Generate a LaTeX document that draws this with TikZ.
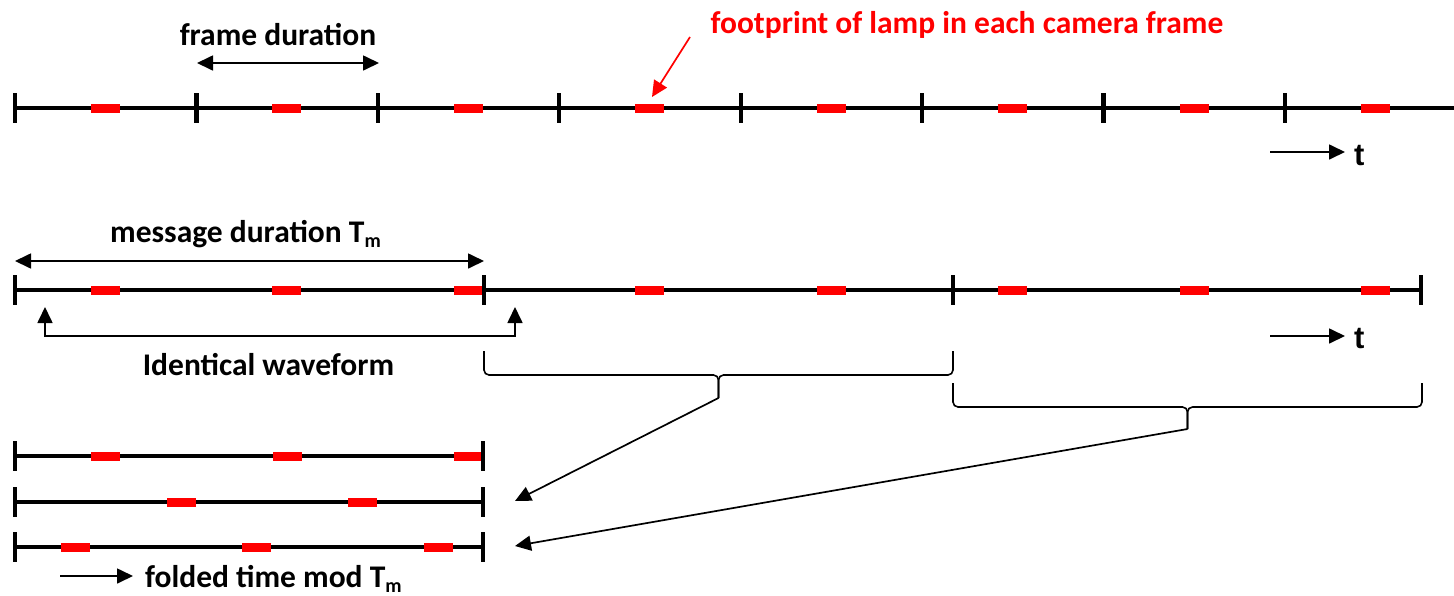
\documentclass[tikz,border=0pt]{standalone}
\usepackage{fontspec}
\setmainfont{Carlito}
\newfontfamily\arialfont{Liberation Sans}
\usetikzlibrary{arrows.meta}
\newcommand\subm{\raisebox{-5pt}{\fontsize{20}{20}\selectfont m}}
\begin{document}
\begin{tikzpicture}[x=1pt,y=-1pt,
  axis/.style={line width=4.4pt},
  tickmark/.style={line width=4.4pt},
  thinarrow/.style={line width=1.7pt,-{Triangle[length=16pt,width=15pt]}},
  dblarrow/.style={line width=1.7pt,{Triangle[length=16pt,width=15pt]}-{Triangle[length=16pt,width=15pt]}},
  bracestyle/.style={line width=1.6pt,rounded corners=5pt},
  lbl/.style={font=\fontsize{31.5}{36}\selectfont\bfseries, inner sep=0pt},
  tlbl/.style={font=\arialfont\bfseries\fontsize{31}{34}\selectfont, inner sep=0pt},
]
\useasboundingbox (0,0) rectangle (1454,595);

% ---------- Row 1: camera frames ----------
\coordinate (r1s) at (15,108);
\coordinate (r1e) at (1454,108);
\draw[axis] (r1s) -- (r1e);
\foreach \i in {0,...,7} {
  \pgfmathsetmacro\xx{15+181.43*\i}
  \fill[red] ({\xx+76},104) rectangle ({\xx+105},112.5);
  \draw[tickmark] (\xx,93) -- (\xx,123);
}
\coordinate (fdA) at (197,63);
\coordinate (fdB) at (379,63);
\draw[dblarrow] (fdA) -- (fdB);
\node[lbl, anchor=base] (fdl) at (278,45) {frame duration};

\node[lbl, text=red, anchor=base] (fpl) at (967,33) {footprint of lamp in each camera frame};
\coordinate (fpA) at (690,37);
\coordinate (fpB) at (652,97);
\draw[thinarrow, red] (fpA) -- (fpB);

\coordinate (t1A) at (1270,152);
\coordinate (t1B) at (1345,152);
\draw[thinarrow] (t1A) -- (t1B);
\node[tlbl, anchor=base west] (t1) at (1354,165) {t};

% ---------- Row 2: message repeats ----------
\coordinate (r2s) at (15,290);
\coordinate (r2e) at (1421,290);
\draw[axis] (r2s) -- (r2e);
\foreach \i in {0,...,7} {
  \pgfmathsetmacro\xx{15+181.43*\i}
  \fill[red] ({\xx+76},286) rectangle ({\xx+105},294.5);
}
\foreach \xx in {15,484,953,1421} {
  \draw[tickmark] (\xx,275) -- (\xx,305);
}
\coordinate (mdA) at (15,261);
\coordinate (mdB) at (484,261);
\draw[dblarrow] (mdA) -- (mdB);
\node[lbl, anchor=base west] (mdl) at (110,242) {message duration T\subm};

\coordinate (iwA) at (45,307);
\coordinate (iwB) at (515,307);
\draw[dblarrow] (iwA) -- ++(0,29) -| (iwB);
\node[lbl, anchor=base] (iwl) at (268.5,375) {Identical waveform};

\coordinate (t2A) at (1270,336);
\coordinate (t2B) at (1345,336);
\draw[thinarrow] (t2A) -- (t2B);
\node[tlbl, anchor=base west] (t2) at (1354,348) {t};

% ---------- Braces ----------
\coordinate (b1tip) at (718.5,398);
\draw[bracestyle] (484,351) -- (484,375) -- (718.5,375) -- (b1tip);
\draw[bracestyle] (953,351) -- (953,375) -- (718.5,375) -- (b1tip);
\coordinate (b2tip) at (1187.5,429);
\draw[bracestyle] (953,383) -- (953,407) -- (1187.5,407) -- (b2tip);
\draw[bracestyle] (1422,383) -- (1422,407) -- (1187.5,407) -- (b2tip);

% ---------- Folded rows ----------
\foreach \yy/\bars in {456/{105.5,287,468.5}, 502/{181,362.5}, 547/{75,256,438}} {
  \draw[axis] (15,\yy) -- (483,\yy);
  \foreach \bx in \bars {
    \fill[red] ({\bx-14.5},{\yy-4}) rectangle ({\bx+14.5},{\yy+4.5});
  }
  \draw[tickmark] (15,{\yy-15}) -- (15,{\yy+15});
  \draw[tickmark] (483,{\yy-15}) -- (483,{\yy+15});
}
\coordinate (fA) at (515,501);
\coordinate (fB) at (515,546);
\draw[thinarrow] (b1tip) -- (fA);
\draw[thinarrow] (b2tip) -- (fB);

\coordinate (ftA) at (60,576);
\coordinate (ftB) at (133,576);
\draw[thinarrow] (ftA) -- (ftB);
\node[lbl, anchor=base west] (ftl) at (145,587) {folded time mod T\subm};
\end{tikzpicture}
\end{document}
